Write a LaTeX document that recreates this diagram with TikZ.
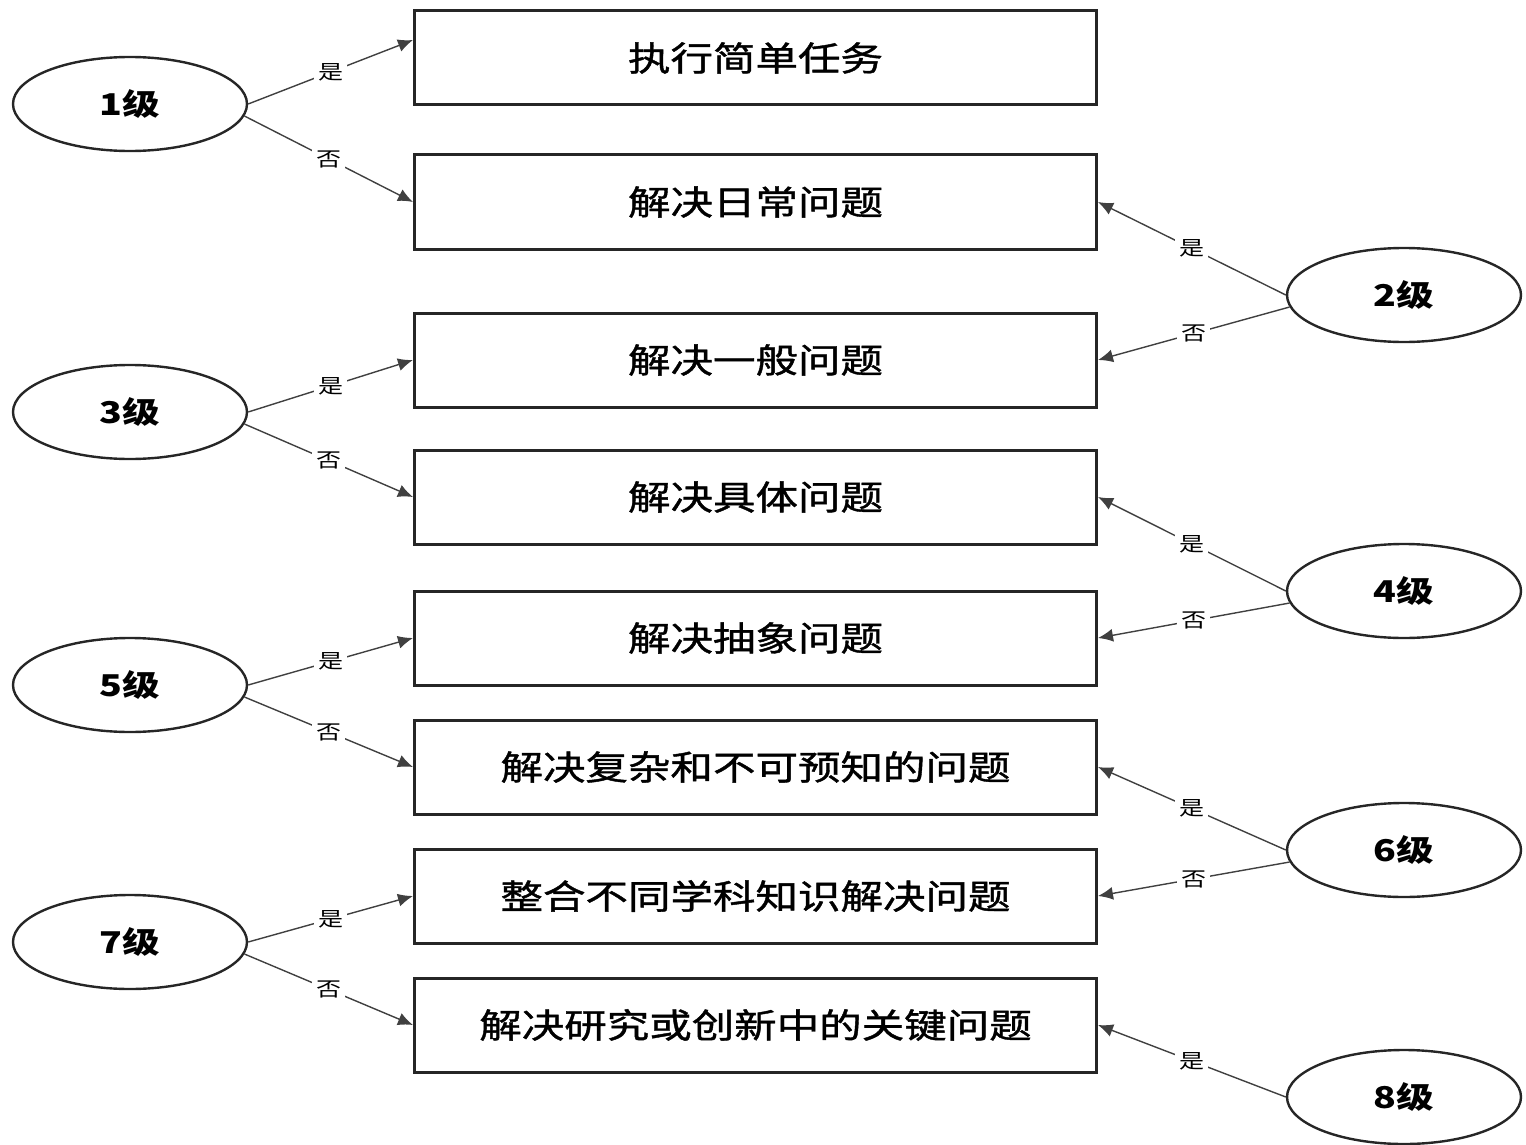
\documentclass[tikz,border=0pt]{standalone}
\usepackage{fontspec}
\newfontfamily\cjk[FakeStretch=1.25]{Noto Sans CJK SC}
\newfontfamily\cjkbox[FakeStretch=1.25, FakeBold=1.2]{Noto Sans CJK SC}
\usetikzlibrary{arrows.meta, shapes.geometric}

\begin{document}
\begin{tikzpicture}[
  x=0.5pt, y=-0.5pt,
  font=\cjk,
  box/.style={draw=black!85, minimum width=341pt, minimum height=47pt,
              inner sep=0pt, line width=1.5pt,
              font=\cjkbox\fontsize{17}{20}\selectfont},
  level/.style={ellipse, draw=black!85, minimum width=117pt,
                minimum height=47pt, inner sep=0pt, line width=1.2pt,
                font=\cjk\bfseries\fontsize{15}{18}\selectfont},
  arr/.style={-{Latex[length=7.5pt, width=6.5pt]}, draw=black!75, line width=0.7pt},
  lbl/.style={font=\cjk\fontsize{10}{12}\selectfont, inner sep=2pt, fill=white}
]
\useasboundingbox (0,0) rectangle (1526,1145);

%% ——— Cajas de tareas ———
\node[box] (t1) at (755.5,   58) {执行简单任务};
\node[box] (t2) at (755.5,  202) {解决日常问题};
\node[box] (t3) at (755.5,  360) {解决一般问题};
\node[box] (t4) at (755.5,  497) {解决具体问题};
\node[box] (t5) at (755.5,  638) {解决抽象问题};
\node[box] (t6) at (755.5,  767) {解决复杂和不可预知的问题};
\node[box] (t7) at (755.5,  896) {整合不同学科知识解决问题};
\node[box] (t8) at (755.5, 1025) {解决研究或创新中的关键问题};

%% ——— Niveles a la izquierda ———
\node[level] (l1) at (130,  104) {1级};
\node[level] (l3) at (130,  412) {3级};
\node[level] (l5) at (130,  685) {5级};
\node[level] (l7) at (130,  942) {7级};

%% ——— Niveles a la derecha ———
\node[level] (l2) at (1404,  295) {2级};
\node[level] (l4) at (1404,  591) {4级};
\node[level] (l6) at (1404,  850) {6级};
\node[level] (l8) at (1404, 1097) {8级};

%% ——— Flechas izquierda ———
\draw[arr] (l1.east) -- node[lbl]{是} ([yshift=9pt]t1.west);
\draw[arr] (l1.-6)   -- node[lbl]{否} (t2.west);
\draw[arr] (l3.east) -- node[lbl]{是} (t3.west);
\draw[arr] (l3.-6)   -- node[lbl]{否} (t4.west);
\draw[arr] (l5.east) -- node[lbl]{是} (t5.west);
\draw[arr] (l5.-6)   -- node[lbl]{否} (t6.west);
\draw[arr] (l7.east) -- node[lbl]{是} (t7.west);
\draw[arr] (l7.-6)   -- node[lbl]{否} (t8.west);

%% ——— Flechas derecha ———
\draw[arr] (l2.west) -- node[lbl]{是} (t2.east);
\draw[arr] (l2.186)  -- node[lbl]{否} (t3.east);
\draw[arr] (l4.west) -- node[lbl]{是} (t4.east);
\draw[arr] (l4.186)  -- node[lbl]{否} (t5.east);
\draw[arr] (l6.west) -- node[lbl]{是} (t6.east);
\draw[arr] (l6.186)  -- node[lbl]{否} (t7.east);
\draw[arr] (l8.west) -- node[lbl]{是} (t8.east);

\end{tikzpicture}
\end{document}
